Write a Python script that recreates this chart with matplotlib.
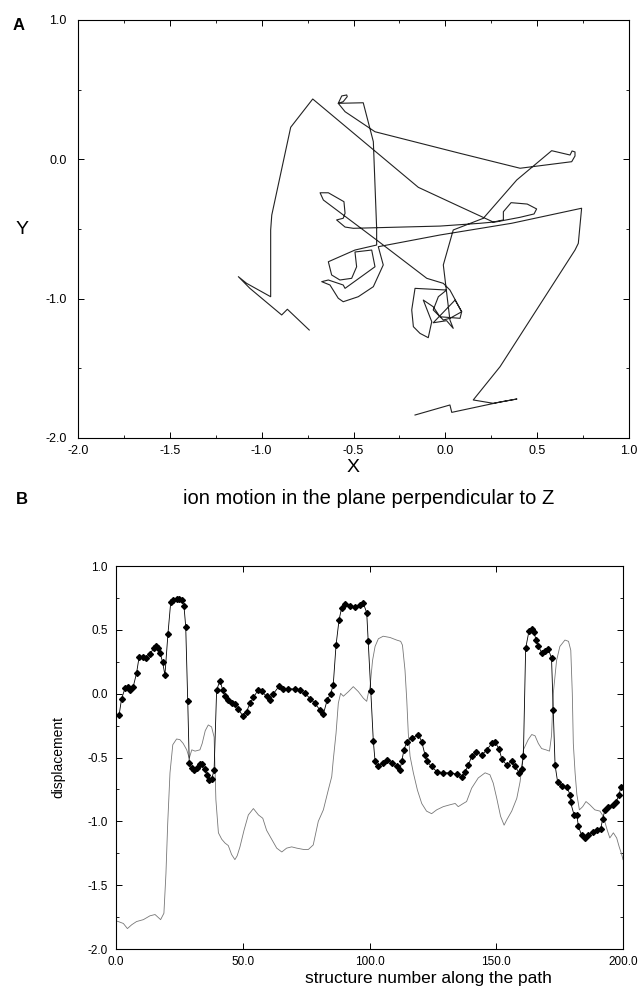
import matplotlib
matplotlib.use("Agg")
import matplotlib.pyplot as plt
from matplotlib.ticker import MultipleLocator, FormatStrFormatter

plt.rcParams["font.family"] = ["Liberation Sans", "DejaVu Sans"]
plt.rcParams["axes.unicode_minus"] = False

# panel A: ion path projected on the XY plane
traj_x = [-0.741, -0.860, -0.891, -1.064, -1.127, -1.082, -0.951, -0.951, -0.945, -0.842,
          -0.722, -0.147, 0.080, 0.261, 0.316, 0.316, 0.358, 0.446, 0.497, 0.483,
          0.407, 0.280, 0.189, -0.029, -0.501, -0.546, -0.592, -0.556, -0.546, -0.552,
          -0.637, -0.682, -0.664, -0.374, -0.101, -0.011, 0.025, 0.089, 0.025, -0.011,
          -0.066, -0.038, 0.007, -0.165, -0.183, -0.174, -0.138, -0.093, -0.074, -0.120,
          -0.066, -0.029, 0.080, 0.089, 0.053, -0.066, 0.007, 0.043, 0.025, -0.011,
          0.043, 0.207, 0.389, 0.579, 0.679, 0.690, 0.706, 0.706, 0.688, 0.407,
          0.080, -0.383, -0.546, -0.583, -0.564, -0.537, -0.534, -0.556, -0.583, -0.447,
          -0.392, -0.374, -0.374, -0.492, -0.637, -0.619, -0.574, -0.510, -0.483, -0.492,
          -0.401, -0.383, -0.546, -0.556, -0.637, -0.673, -0.628, -0.583, -0.556, -0.474,
          -0.392, -0.338, -0.365, -0.029, 0.361, 0.742, 0.724, 0.706, 0.298, 0.152,
          0.261, 0.390, 0.298, 0.035, 0.025, -0.165]
traj_y = [-1.225, -1.076, -1.117, -0.926, -0.842, -0.890, -0.986, -0.507, -0.400, 0.230,
          0.433, -0.201, -0.340, -0.450, -0.435, -0.376, -0.311, -0.321, -0.356, -0.392,
          -0.416, -0.448, -0.459, -0.479, -0.495, -0.486, -0.435, -0.423, -0.387, -0.304,
          -0.240, -0.240, -0.292, -0.579, -0.854, -0.890, -0.938, -1.094, -1.141, -1.153,
          -1.081, -0.986, -0.938, -0.926, -1.081, -1.201, -1.249, -1.280, -1.165, -1.010,
          -1.058, -1.130, -1.141, -1.094, -1.010, -1.173, -1.158, -1.213, -1.153, -0.758,
          -0.507, -0.423, -0.148, 0.062, 0.031, 0.060, 0.053, 0.024, -0.017, -0.064,
          0.043, 0.198, 0.342, 0.402, 0.455, 0.462, 0.450, 0.414, 0.402, 0.406,
          0.127, -0.495, -0.615, -0.651, -0.735, -0.830, -0.866, -0.854, -0.771, -0.665,
          -0.651, -0.771, -0.926, -0.902, -0.866, -0.878, -0.902, -0.997, -1.022, -0.986,
          -0.914, -0.758, -0.627, -0.543, -0.459, -0.351, -0.603, -0.651, -1.488, -1.727,
          -1.751, -1.720, -1.742, -1.816, -1.763, -1.835]

# panel B: displacement along the path (diamonds = one coordinate, thin line = other)
struct_d = [1.2, 2.2, 3.6, 4.9, 5.6, 6.8, 8.1, 9.1, 10.8, 11.8, 13.4, 15.0, 15.7, 16.7, 17.4,
            18.4, 19.3, 20.5, 21.6, 22.6, 23.9, 25.0, 25.9, 26.8, 27.5, 28.3, 28.9, 29.9, 30.8,
            31.8, 33.1, 34.0, 35.1, 35.8, 36.8, 37.7, 38.7, 39.7, 41.0, 42.1, 43.0, 44.3, 45.6,
            46.9, 48.3, 50.0, 51.5, 52.9, 54.2, 56.1, 57.4, 59.4, 60.8, 62.1, 64.4, 66.0, 68.0,
            70.6, 72.6, 74.6, 76.6, 78.5, 80.5, 81.8, 83.3, 84.7, 85.7, 86.8, 88.0, 89.0, 90.3,
            92.3, 94.3, 96.2, 97.5, 98.9, 99.5, 100.5, 101.5, 102.2, 103.5, 105.4, 106.8, 108.8,
            110.7, 112.0, 112.7, 113.6, 114.7, 116.7, 119.3, 120.6, 121.9, 122.6, 124.5, 126.5,
            129.1, 131.8, 134.4, 136.4, 137.7, 139.0, 140.3, 142.2, 144.3, 146.3, 148.2, 149.5,
            151.1, 152.2, 154.1, 156.1, 157.4, 159.1, 160.0, 160.7, 161.6, 162.9, 164.0, 164.9,
            165.7, 166.6, 167.9, 169.3, 170.5, 171.8, 172.5, 173.2, 174.2, 175.8, 177.8, 179.1,
            179.3, 180.7, 181.8, 182.4, 183.7, 185.0, 186.3, 188.3, 189.6, 191.2, 192.0, 192.9,
            194.2, 195.9, 197.2, 198.5, 199.1]
disp_d = [-0.17, -0.04, 0.045, 0.05, 0.03, 0.055, 0.16, 0.285, 0.29, 0.28, 0.31, 0.36, 0.375,
          0.36, 0.32, 0.245, 0.146, 0.47, 0.72, 0.735, 0.74, 0.745, 0.73, 0.69, 0.525, -0.06,
          -0.545, -0.584, -0.60, -0.58, -0.55, -0.55, -0.59, -0.635, -0.676, -0.67, -0.60, 0.03,
          0.10, 0.03, -0.02, -0.05, -0.07, -0.08, -0.12, -0.175, -0.14, -0.075, -0.03, 0.03,
          0.02, -0.02, -0.05, 0.0, 0.06, 0.04, 0.04, 0.035, 0.025, 0.003, -0.04, -0.075, -0.13,
          -0.16, -0.05, 0.0, 0.07, 0.38, 0.58, 0.67, 0.70, 0.69, 0.68, 0.695, 0.71, 0.635, 0.41,
          0.024, -0.37, -0.53, -0.57, -0.54, -0.52, -0.54, -0.57, -0.60, -0.53, -0.44, -0.376,
          -0.35, -0.32, -0.376, -0.48, -0.53, -0.57, -0.61, -0.62, -0.62, -0.63, -0.655, -0.61,
          -0.56, -0.49, -0.46, -0.48, -0.44, -0.39, -0.375, -0.435, -0.51, -0.56, -0.53, -0.57,
          -0.62, -0.59, -0.49, 0.355, 0.49, 0.505, 0.48, 0.42, 0.375, 0.32, 0.335, 0.35, 0.28,
          -0.13, -0.56, -0.69, -0.72, -0.73, -0.79, -0.85, -0.95, -0.95, -1.04, -1.11, -1.13,
          -1.11, -1.08, -1.07, -1.06, -0.98, -0.91, -0.89, -0.87, -0.85, -0.79, -0.73]

struct_l = [0.0, 0.9, 2.9, 4.5, 6.2, 8.1, 10.8, 13.4, 15.4, 17.6, 18.9, 19.7, 20.4, 21.3, 22.4,
            23.9, 25.2, 26.5, 27.9, 28.9, 29.9, 31.2, 33.1, 34.0, 35.2, 36.4, 37.7, 38.7, 39.1,
            39.4, 40.4, 41.7, 43.0, 44.3, 45.6, 46.9, 47.8, 48.9, 50.5, 52.2, 54.2, 56.2, 57.9,
            59.4, 61.4, 63.4, 65.4, 67.3, 69.3, 71.3, 73.9, 75.9, 77.8, 79.8, 81.8, 83.8, 85.1,
            85.7, 86.8, 87.7, 88.6, 89.7, 91.7, 93.6, 95.6, 97.6, 98.9, 99.5, 100.2, 101.2, 102.2,
            103.5, 105.4, 108.1, 110.7, 112.3, 113.0, 114.0, 114.7, 115.3, 116.0, 117.3, 118.9,
            120.6, 122.5, 124.5, 126.5, 129.1, 131.8, 133.8, 135.0, 137.0, 138.3, 140.3, 142.9,
            145.6, 147.5, 148.8, 150.2, 151.7, 153.1, 154.1, 156.1, 158.1, 159.4, 160.0, 160.7,
            162.6, 164.0, 165.3, 166.6, 167.9, 169.6, 171.0, 171.8, 172.5, 173.8, 175.1, 177.1,
            178.5, 179.4, 180.0, 180.4, 181.1, 181.8, 182.8, 184.1, 185.4, 186.9, 188.9, 190.9,
            192.2, 193.8, 194.8, 196.2, 197.5, 198.5, 199.5, 200.0]
disp_l = [-1.78, -1.785, -1.80, -1.84, -1.81, -1.785, -1.77, -1.74, -1.73, -1.77, -1.72, -1.41,
          -1.015, -0.62, -0.40, -0.355, -0.36, -0.39, -0.44, -0.505, -0.44, -0.45, -0.44, -0.39,
          -0.29, -0.245, -0.26, -0.34, -0.62, -0.83, -1.09, -1.14, -1.17, -1.19, -1.26, -1.30,
          -1.27, -1.20, -1.07, -0.95, -0.90, -0.95, -0.976, -1.07, -1.14, -1.21, -1.24, -1.21,
          -1.20, -1.21, -1.22, -1.22, -1.185, -1.0, -0.91, -0.75, -0.65, -0.52, -0.31, -0.075,
          0.003, -0.02, 0.016, 0.055, 0.016, -0.036, -0.06, 0.0, 0.05, 0.26, 0.37, 0.43, 0.45,
          0.44, 0.42, 0.41, 0.38, 0.185, -0.05, -0.31, -0.49, -0.62, -0.755, -0.86, -0.92, -0.94,
          -0.91, -0.885, -0.87, -0.86, -0.885, -0.86, -0.845, -0.74, -0.66, -0.62, -0.635, -0.70,
          -0.82, -0.96, -1.03, -0.99, -0.92, -0.82, -0.69, -0.59, -0.44, -0.36, -0.32, -0.33,
          -0.39, -0.43, -0.44, -0.45, -0.33, 0.003, 0.26, 0.37, 0.42, 0.41, 0.34, 0.003, -0.39,
          -0.62, -0.79, -0.91, -0.885, -0.845, -0.87, -0.91, -0.92, -0.96, -1.07, -1.13, -1.09,
          -1.13, -1.20, -1.26, -1.30]

W, H = 641, 986
fig = plt.figure(figsize=(W / 100, H / 100), dpi=100)


def box(l, t, r, b):
    return [l / W, 1 - b / H, (r - l) / W, (b - t) / H]


def pt(x, y):
    return x / W, 1 - y / H


def style(ax, size):
    ax.tick_params(which="both", direction="in", top=True, right=True, labelsize=size)
    ax.tick_params(which="major", length=4, width=0.7)
    ax.tick_params(which="minor", length=2.5, width=0.6)
    for s in ax.spines.values():
        s.set_linewidth(0.8)


# --- A ---
axA = fig.add_axes(box(78, 20, 629, 438))
axA.plot(traj_x, traj_y, color="#222222", lw=0.8)
axA.set_xlim(-2, 1)
axA.set_ylim(-2, 1)
axA.xaxis.set_major_locator(MultipleLocator(0.5))
axA.xaxis.set_minor_locator(MultipleLocator(0.25))
axA.yaxis.set_major_locator(MultipleLocator(1.0))
axA.yaxis.set_minor_locator(MultipleLocator(0.5))
axA.xaxis.set_major_formatter(FormatStrFormatter("%.1f"))
axA.yaxis.set_major_formatter(FormatStrFormatter("%.1f"))
style(axA, 9)
axA.tick_params(axis="x", pad=5)
axA.tick_params(axis="y", pad=8)

fig.text(*pt(19, 26), "A", fontsize=12, fontweight="bold", ha="center", va="center")
fig.text(*pt(22, 229), "Y", fontsize=14, ha="center", va="center")
fig.text(*pt(353, 468), "X", fontsize=14, ha="center", va="center")

# --- B ---
fig.text(*pt(22, 500), "B", fontsize=12, fontweight="bold", ha="center", va="center")
fig.text(*pt(369, 499), "ion motion in the plane perpendicular to Z", fontsize=14.5,
         ha="center", va="center")

axB = fig.add_axes(box(116, 566, 623, 949))
axB.plot(struct_l, disp_l, color="#777777", lw=0.6)
axB.plot(struct_d, disp_d, color="black", lw=0.6, marker="D", ms=3.0, mec="black", mfc="black")
axB.set_xlim(0, 200)
axB.set_ylim(-2, 1)
axB.xaxis.set_major_locator(MultipleLocator(50))
axB.yaxis.set_major_locator(MultipleLocator(0.5))
axB.yaxis.set_minor_locator(MultipleLocator(0.25))
axB.xaxis.set_major_formatter(FormatStrFormatter("%.1f"))
axB.yaxis.set_major_formatter(FormatStrFormatter("%.1f"))
style(axB, 8.5)
axB.tick_params(axis="x", pad=5)
axB.tick_params(axis="y", pad=6)

fig.text(*pt(428, 979), "structure number along the path", fontsize=12.5, ha="center", va="center")
fig.text(*pt(58, 757), "displacement", fontsize=10, rotation=90, ha="center", va="center")

fig.savefig("out.png", dpi=100)
